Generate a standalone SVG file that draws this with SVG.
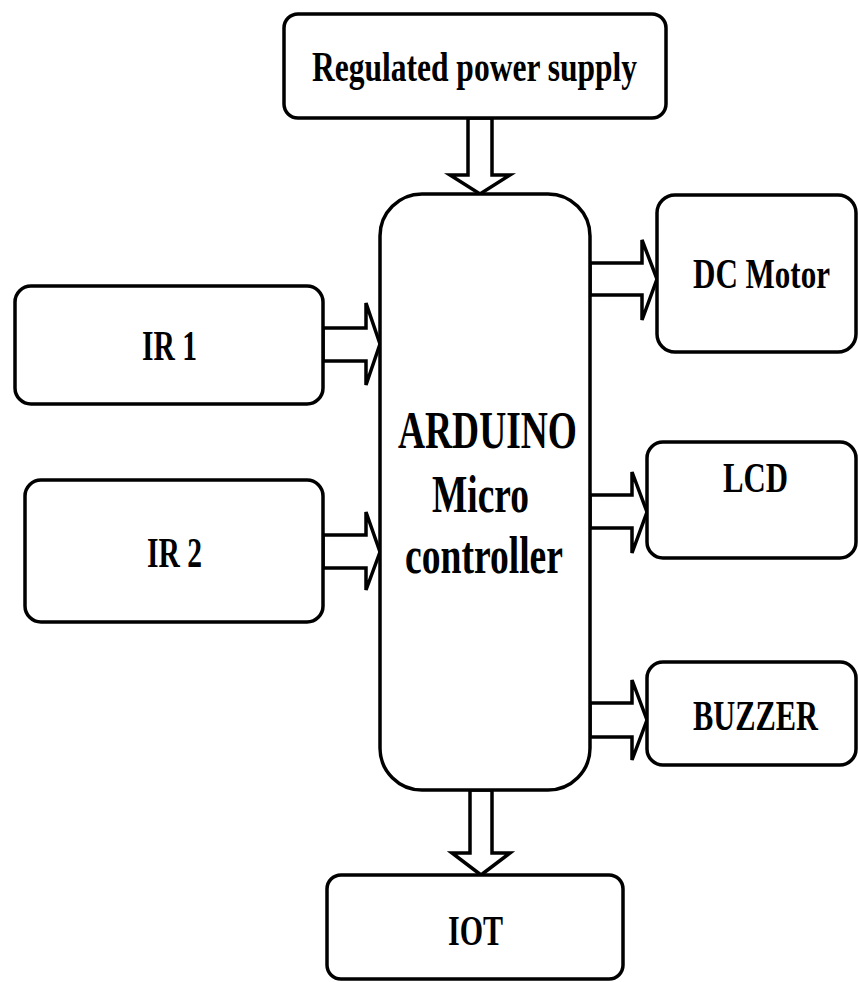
<svg xmlns="http://www.w3.org/2000/svg" width="858" height="982" viewBox="0 0 858 982">
<style>
.box{fill:#fff;stroke:#000;stroke-width:3.5}
.arr{fill:#fff;stroke:#000;stroke-width:3.5;stroke-linejoin:miter}
.t{font-family:"Liberation Serif","Times New Roman",serif;font-weight:bold;font-size:42px;fill:#000;text-anchor:middle}
.big{font-size:52px}
</style>
<rect width="858" height="982" fill="#fff"/>
<g id="connectors">
<polygon class="arr" points="468,118 468,175 450,175 480,194 510,175 492,175 492,118"/>
<polygon class="arr" points="323,328 366,328 366,303 380,344 366,385 366,361 323,361"/>
<polygon class="arr" points="323,535 366,535 366,512 380,552 366,590 366,568 323,568"/>
<polygon class="arr" points="590,263 642,263 642,240 657,279 642,320 642,295 590,295"/>
<polygon class="arr" points="590,495 632,495 632,472 647,512 632,553 632,528 590,528"/>
<polygon class="arr" points="590,703 632,703 632,680 647,720 632,760 632,737 590,737"/>
<polygon class="arr" points="470,790 470,853 452,853 481,875 510,853 492,853 492,790"/>
</g>
<g id="power">
<rect class="box" x="284" y="14" width="382" height="104" rx="14"/>
<text class="t" transform="scale(0.72,1)" x="659.03" y="81" textLength="451.4" lengthAdjust="spacingAndGlyphs">Regulated power supply</text>
</g>
<g id="arduino">
<rect class="box" x="380" y="194" width="210" height="596" rx="42"/>
<text class="t big" transform="scale(0.72,1)" x="677.08" y="448" textLength="248.6" lengthAdjust="spacingAndGlyphs">ARDUINO</text>
<text class="t big" transform="scale(0.72,1)" x="667.36" y="512" textLength="134.7" lengthAdjust="spacingAndGlyphs">Micro</text>
<text class="t big" transform="scale(0.72,1)" x="672.22" y="573" textLength="219.4" lengthAdjust="spacingAndGlyphs">controller</text>
</g>
<g id="ir1">
<rect class="box" x="15" y="286" width="308" height="118" rx="16"/>
<text class="t" transform="scale(0.72,1)" x="235.42" y="360" textLength="76.4" lengthAdjust="spacingAndGlyphs">IR 1</text>
</g>
<g id="ir2">
<rect class="box" x="25" y="480" width="298" height="142" rx="16"/>
<text class="t" transform="scale(0.72,1)" x="242.36" y="567" textLength="76.4" lengthAdjust="spacingAndGlyphs">IR 2</text>
</g>
<g id="dcmotor">
<rect class="box" x="657" y="195" width="199" height="157" rx="18"/>
<text class="t" transform="scale(0.72,1)" x="1057.64" y="288" textLength="190.3" lengthAdjust="spacingAndGlyphs">DC Motor</text>
</g>
<g id="lcd">
<rect class="box" x="647" y="442" width="209" height="116" rx="16"/>
<text class="t" transform="scale(0.72,1)" x="1049.31" y="492" textLength="90.3" lengthAdjust="spacingAndGlyphs">LCD</text>
</g>
<g id="buzzer">
<rect class="box" x="647" y="662" width="209" height="103" rx="16"/>
<text class="t" transform="scale(0.72,1)" x="1049.31" y="730" textLength="173.6" lengthAdjust="spacingAndGlyphs">BUZZER</text>
</g>
<g id="iot">
<rect class="box" x="327" y="875" width="296" height="104" rx="14"/>
<text class="t" transform="scale(0.72,1)" x="660.42" y="945" textLength="76.4" lengthAdjust="spacingAndGlyphs">IOT</text>
</g>
</svg>
